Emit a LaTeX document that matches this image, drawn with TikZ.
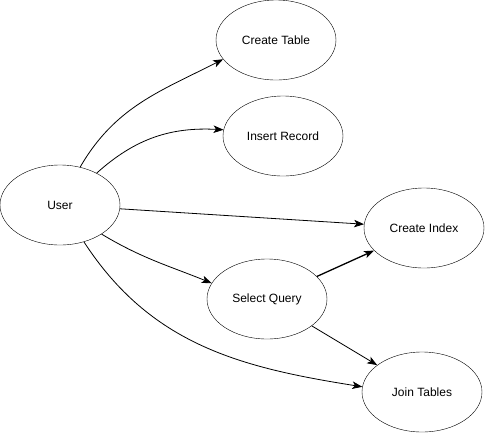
\documentclass[tikz,border=0pt]{standalone}
\usepackage{fontspec}
\setmainfont{Liberation Sans}
\usetikzlibrary{shapes,arrows.meta}

\begin{document}
\begin{tikzpicture}[x=1pt, y=-1pt, >={Stealth[length=10pt, width=7.5pt, inset=2.5pt]}, font=\fontsize{12}{14}\selectfont,
	usecase/.style={ellipse, draw=black, minimum width=120pt, minimum height=80pt, inner sep=0pt},
	link/.style={->, line width=0.8pt}]
	\useasboundingbox (0,0) rectangle (485,432);
	\node [usecase] (user) at (60,205) {User};
	\node [usecase] (table) at (276,40) {Create Table};
	\node [usecase] (insert) at (283,136) {Insert Record};
	\node [usecase] (index) at (424,228) {Create Index};
	\node [usecase] (select) at (267,299) {Select Query};
	\node [usecase] (join) at (422,392) {Join Tables};
	\draw [link] (user.62) to[out=60, in=207] (table.200);
	\draw [link] (user.41) to[out=42, in=177] (insert.174);
	\draw [link] (user) -- (index);
	\draw [link] (user.-35) to[out=-31, in=158] (select.164);
	\draw [link] (user.-57) to[out=-57, in=171] (join.175);
	\draw [link, line width=1.3pt] (select) -- (index);
	\draw [link] (select) -- (join);
\end{tikzpicture}
\end{document}
